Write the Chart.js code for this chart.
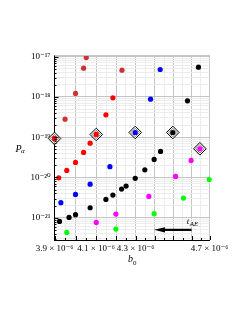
<!DOCTYPE html>
<html><head><meta charset="utf-8">
<script src="https://cdn.jsdelivr.net/npm/chart.js@4"></script>
<style>html,body{margin:0;padding:0;background:#fff;}canvas{display:block;}</style>
</head><body>
<canvas id="c" width="245" height="317"></canvas>
<script>
// ---- data (b0, P_alpha) ----
const bBrown = [3.950e-6, 4.000e-6, 4.039e-6, 4.052e-6, 4.230e-6];
const pBrown = [2.8e-19, 1.22e-18, 5.18e-18, 9.5e-18, 4.61e-18];

const bRed = [3.900e-6, 3.920e-6, 3.958e-6, 4.000e-6, 4.039e-6, 4.071e-6, 4.101e-6, 4.149e-6, 4.184e-6];
const pRed = [9.3e-20, 9.8e-21, 1.50e-20, 2.36e-20, 4.18e-20, 7.1e-20, 1.17e-19, 3.6e-19, 9.5e-19];

const bBlue = [3.930e-6, 4.000e-6, 4.071e-6, 4.169e-6, 4.298e-6, 4.378e-6, 4.429e-6];
const pBlue = [2.36e-21, 3.79e-21, 6.8e-21, 1.85e-20, 1.31e-19, 8.8e-19, 4.80e-18];

const bBlack = [3.9235e-6, 3.969e-6, 4.000e-6, 4.071e-6, 4.149e-6, 4.184e-6, 4.228e-6, 4.251e-6, 4.298e-6, 4.348e-6, 4.397e-6, 4.431e-6, 4.497e-6, 4.577e-6, 4.638e-6];
const pBlack = [8.1e-22, 1.02e-21, 1.19e-21, 1.77e-21, 2.85e-21, 3.65e-21, 5.14e-21, 6.1e-21, 9.5e-21, 1.55e-20, 2.80e-20, 4.43e-20, 1.31e-19, 8.0e-19, 5.48e-18];

const bMagenta = [4.101e-6, 4.199e-6, 4.369e-6, 4.512e-6, 4.597e-6, 4.646e-6];
const pMagenta = [7.66e-22, 1.23e-21, 3.38e-21, 1.06e-20, 2.65e-20, 5.15e-20];

const bGreen = [3.958e-6, 4.199e-6, 4.397e-6, 4.555e-6, 4.698e-6];
const pGreen = [4.32e-22, 5.24e-22, 1.26e-21, 3.08e-21, 8.9e-21];

// highlighted (diamond) points
const bMarked = [3.900e-6, 4.101e-6, 4.298e-6, 4.497e-6, 4.646e-6];
const pMarked = [9.3e-20, 1.17e-19, 1.31e-19, 1.31e-19, 5.15e-20];

// arrow annotation t_AE (data coordinates)
const arrowFromB = 4.60e-6, arrowToB = 4.396e-6, arrowP = 5.0e-22;

// ---- ticks ----
const xMajorTicks = [3.9e-6, 4.0e-6, 4.1e-6, 4.2e-6, 4.3e-6, 4.4e-6, 4.5e-6, 4.6e-6, 4.7e-6];
const xMinorTicks = [3.95e-6, 4.05e-6, 4.15e-6, 4.25e-6, 4.35e-6, 4.45e-6, 4.55e-6, 4.65e-6];
const xLabelVals = [3.9e-6, 4.1e-6, 4.3e-6, 4.7e-6];
const xTickLabels = ['3.9 × 10⁻⁶', '4.1 × 10⁻⁶', '4.3 × 10⁻⁶', '4.7 × 10⁻⁶'];
const yMajorTicks = [1e-21, 1e-20, 1e-19, 1e-18, 1e-17];
const yTickLabels = ['10⁻²¹', '10⁻²⁰', '10⁻¹⁹', '10⁻¹⁸', '10⁻¹⁷'];
const yMinorMult = [2, 3, 4, 5, 6, 7, 8, 9];
const xMin = 3.9e-6, xMax = 4.7e-6, yMin = 2.8e-22, yMax = 1.1e-17;

const pts = (bs, ps) => bs.map((b, i) => ({x: b, y: ps[i]}));
const near = (a, b) => Math.abs(a - b) / b < 1e-6;

function dotSet(bs, ps, color) {
  return {data: pts(bs, ps), backgroundColor: color, borderColor: color, borderWidth: 0,
    pointRadius: 2.6, pointHoverRadius: 2.6, clip: false, order: 0};
}

const serif = '"Liberation Serif", "DejaVu Serif", serif';

const extras = {
  id: 'extras',
  afterDraw(chart) {
    const {ctx, chartArea: a, scales: {x, y}} = chart;
    ctx.save();
    // top border
    ctx.strokeStyle = '#c8c8c8'; ctx.lineWidth = 1;
    ctx.beginPath(); ctx.moveTo(a.left, a.top + 0.5); ctx.lineTo(a.right, a.top + 0.5); ctx.stroke();
    // inward ticks
    ctx.strokeStyle = '#000'; ctx.lineWidth = 1;
    ctx.beginPath();
    y.ticks.forEach(t => {
      const py = Math.round(y.getPixelForValue(t.value)) + 0.5;
      const len = t.major ? 4 : 2;
      ctx.moveTo(a.left, py); ctx.lineTo(a.left + len, py);
    });
    x.ticks.forEach(t => {
      const px = Math.round(x.getPixelForValue(t.value)) + 0.5;
      const len = t.major ? 4 : 2;
      ctx.moveTo(px, a.bottom); ctx.lineTo(px, a.bottom - len);
    });
    ctx.stroke();
    // arrow
    const x1 = x.getPixelForValue(arrowFromB), x2 = x.getPixelForValue(arrowToB), ay = y.getPixelForValue(arrowP);
    ctx.strokeStyle = '#000'; ctx.fillStyle = '#000'; ctx.lineWidth = 2.2;
    ctx.beginPath(); ctx.moveTo(x1, ay); ctx.lineTo(x2 + 8, ay); ctx.stroke();
    ctx.beginPath(); ctx.moveTo(x2, ay); ctx.lineTo(x2 + 11, ay - 2.6); ctx.lineTo(x2 + 11, ay + 2.6); ctx.closePath(); ctx.fill();
    // t_AE label
    ctx.fillStyle = '#000'; ctx.textBaseline = 'alphabetic'; ctx.textAlign = 'left';
    ctx.font = 'italic 9px ' + serif;
    ctx.fillText('t', x1 - 5, ay - 6);
    ctx.font = 'italic 7px ' + serif;
    ctx.fillText('AE', x1 - 2, ay - 4);
    // axis titles
    ctx.font = 'italic 10px ' + serif;
    ctx.fillText('P', 15.5, 151.5);
    ctx.font = 'italic 7px ' + serif;
    ctx.fillText('α', 21, 153);
    const cx = (a.left + a.right) / 2;
    ctx.font = 'italic 10px ' + serif;
    ctx.fillText('b', cx - 4, 262);
    ctx.font = '7px ' + serif;
    ctx.fillText('0', cx + 1, 265);
    ctx.restore();
  }
};

new Chart(document.getElementById('c'), {
  type: 'scatter',
  data: {
    datasets: [
      dotSet(bBrown, pBrown, 'rgb(204,51,51)'),
      dotSet(bRed, pRed, '#ff0000'),
      dotSet(bBlue, pBlue, '#0000ff'),
      dotSet(bBlack, pBlack, '#000000'),
      dotSet(bMagenta, pMagenta, '#ff00ff'),
      dotSet(bGreen, pGreen, '#00ff00'),
      {data: pts(bMarked, pMarked), pointStyle: 'rectRot', pointRadius: 4.2, pointHoverRadius: 4.2,
        backgroundColor: '#ffffff', borderColor: '#777777', borderWidth: 1, clip: false, order: 1},
      {data: pts(bMarked, pMarked), pointStyle: 'rectRot', pointRadius: 6.3, pointHoverRadius: 6.3,
        backgroundColor: '#ffffff', borderColor: '#000000', borderWidth: 1, clip: false, order: 2}
    ]
  },
  options: {
    responsive: false,
    animation: false,
    devicePixelRatio: 1,
    layout: {padding: {left: 0, top: 55, right: 35.5, bottom: 0}},
    plugins: {legend: {display: false}, tooltip: {enabled: false}},
    scales: {
      x: {
        type: 'logarithmic', min: xMin, max: xMax, bounds: 'data',
        afterBuildTicks: s => {
          const all = xMajorTicks.map(v => ({value: v, major: true})).concat(xMinorTicks.map(v => ({value: v, major: false})));
          all.sort((p, q) => p.value - q.value);
          s.ticks = all;
        },
        afterFit: s => { s.height = 77; },
        ticks: {
          autoSkip: false, maxRotation: 0, padding: 3, color: '#000',
          font: {family: serif, size: 9},
          callback: (v) => { const i = xLabelVals.findIndex(l => near(v, l)); return i >= 0 ? xTickLabels[i] : ''; }
        },
        grid: {drawTicks: false, color: c => (c.tick && c.tick.major) ? '#c4c4c4' : '#ececec', lineWidth: 1},
        border: {display: true, color: '#000', width: 1}
      },
      y: {
        type: 'logarithmic', min: yMin, max: yMax, bounds: 'data',
        afterBuildTicks: s => {
          const all = [];
          [1e-22].concat(yMajorTicks).forEach(d => {
            if (d >= yMin && d <= yMax) all.push({value: d, major: true});
            yMinorMult.forEach(m => { const v = m * d; if (v >= yMin && v <= yMax) all.push({value: v, major: false}); });
          });
          all.sort((p, q) => p.value - q.value);
          s.ticks = all;
        },
        afterFit: s => { s.width = 54.5; },
        ticks: {
          autoSkip: false, padding: 4, color: '#000',
          font: {family: serif, size: 9},
          callback: (v) => { const i = yMajorTicks.findIndex(l => near(v, l)); return i >= 0 ? yTickLabels[i] : ''; }
        },
        grid: {drawTicks: false, color: c => (c.tick && c.tick.major) ? '#c4c4c4' : '#ececec', lineWidth: 1},
        border: {display: true, color: '#000', width: 1}
      }
    }
  },
  plugins: [extras]
});
</script>
</body></html>
